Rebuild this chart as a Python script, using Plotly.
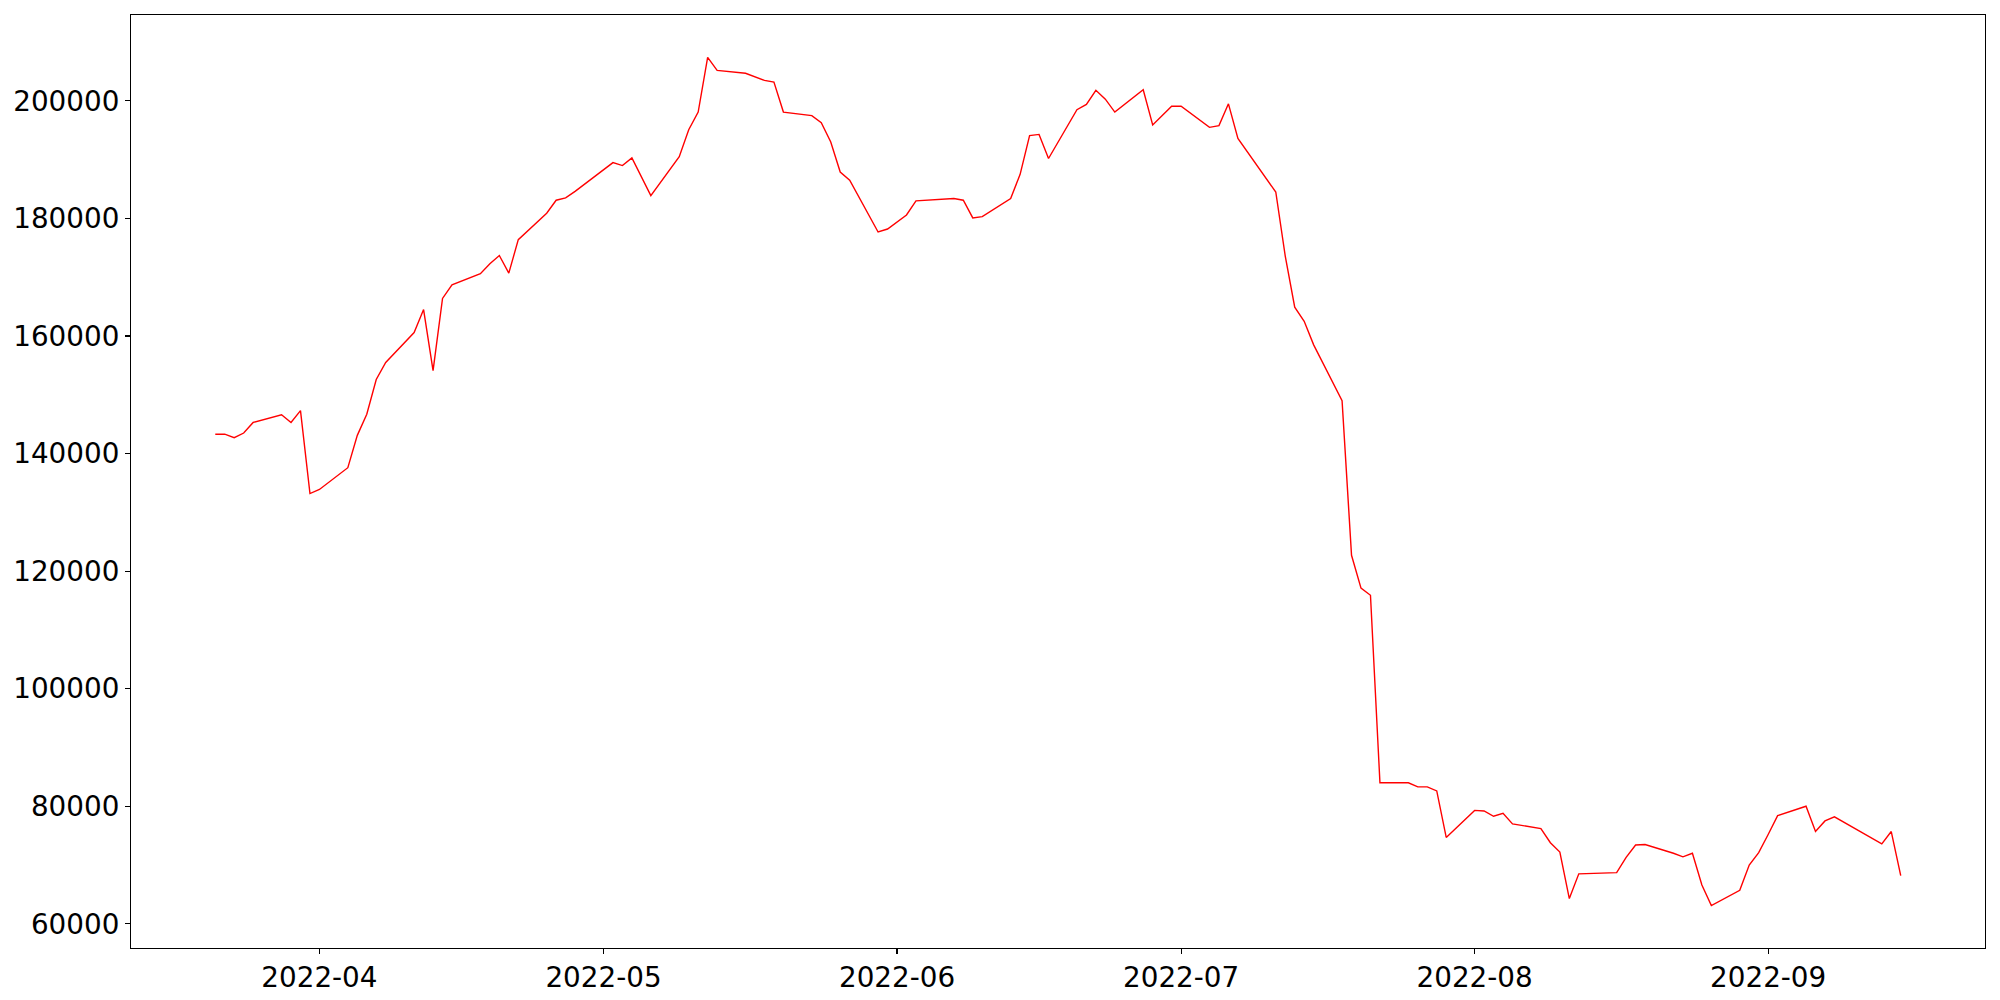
import pandas as pd
import plotly.graph_objects as go

dates = [
    "2022-03-21", "2022-03-22", "2022-03-23", "2022-03-24", "2022-03-25",
    "2022-03-28", "2022-03-29", "2022-03-30", "2022-03-31", "2022-04-01",
    "2022-04-04", "2022-04-05", "2022-04-06", "2022-04-07", "2022-04-08",
    "2022-04-11", "2022-04-12", "2022-04-13", "2022-04-14", "2022-04-15",
    "2022-04-18", "2022-04-19", "2022-04-20", "2022-04-21", "2022-04-22",
    "2022-04-25", "2022-04-26", "2022-04-27", "2022-04-28", "2022-04-29",
    "2022-05-02", "2022-05-03", "2022-05-04", "2022-05-06",
    "2022-05-09", "2022-05-10", "2022-05-11", "2022-05-12", "2022-05-13",
    "2022-05-16", "2022-05-17", "2022-05-18", "2022-05-19", "2022-05-20",
    "2022-05-23", "2022-05-24", "2022-05-25", "2022-05-26", "2022-05-27",
    "2022-05-30", "2022-05-31", "2022-06-02", "2022-06-03",
    "2022-06-07", "2022-06-08", "2022-06-09", "2022-06-10",
    "2022-06-13", "2022-06-14", "2022-06-15", "2022-06-16", "2022-06-17",
    "2022-06-20", "2022-06-21", "2022-06-22", "2022-06-23", "2022-06-24",
    "2022-06-27", "2022-06-28", "2022-06-29", "2022-06-30", "2022-07-01",
    "2022-07-04", "2022-07-05", "2022-07-06", "2022-07-07", "2022-07-08",
    "2022-07-11", "2022-07-12", "2022-07-13", "2022-07-14", "2022-07-15",
    "2022-07-18", "2022-07-19", "2022-07-20", "2022-07-21", "2022-07-22",
    "2022-07-25", "2022-07-26", "2022-07-27", "2022-07-28", "2022-07-29",
    "2022-08-01", "2022-08-02", "2022-08-03", "2022-08-04", "2022-08-05",
    "2022-08-08", "2022-08-09", "2022-08-10", "2022-08-11", "2022-08-12",
    "2022-08-16", "2022-08-17", "2022-08-18", "2022-08-19",
    "2022-08-22", "2022-08-23", "2022-08-24", "2022-08-25", "2022-08-26",
    "2022-08-29", "2022-08-30", "2022-08-31", "2022-09-01", "2022-09-02",
    "2022-09-05", "2022-09-06", "2022-09-07", "2022-09-08",
    "2022-09-13", "2022-09-14", "2022-09-15",
]

values = [
    143300, 143300, 142700, 143500, 145300,
    146600, 145300, 147300, 133200, 133900,
    137600, 143100, 146700, 152600, 155500,
    160600, 164500, 154100, 166400, 168700,
    170600, 172300, 173700, 170700, 176400,
    180900, 183100, 183500, 184600, 185800,
    189500, 189000, 190300, 183900,
    190500, 195100, 198100, 207400, 205200,
    204700, 204100, 203500, 203200, 198100,
    197500, 196300, 193000, 187900, 186500,
    177700, 178200, 180600, 183000,
    183400, 183100, 180100, 180300,
    183400, 187500, 194100, 194300, 190200,
    198500, 199400, 201800, 200300, 198100,
    201900, 195900, 197500, 199100, 199100,
    195500, 195800, 199500, 193600, 191300,
    184500, 173600, 164900, 162500, 158500,
    149000, 122700, 117100, 115900, 84000,
    84000, 83300, 83300, 82600, 74700,
    79300, 79200, 78300, 78800, 77000,
    76200, 73800, 72200, 64300, 68500,
    68700, 71300, 73400, 73500,
    72000, 71400, 72000, 66600, 63100,
    65700, 70000, 72100, 75200, 78400,
    80000, 75700, 77500, 78200,
    73600, 75700, 68200,
]

yticks = [60000, 80000, 100000, 120000, 140000, 160000, 180000, 200000]

x = pd.to_datetime(pd.Series(dates))
span = x.max() - x.min()
xr = [x.min() - 0.05 * span, x.max() + 0.05 * span]
vmin, vmax = min(values), max(values)
vspan = vmax - vmin
yr = [vmin - 0.05 * vspan, vmax + 0.05 * vspan]

fig = go.Figure()
fig.add_trace(go.Scatter(x=x, y=values, mode="lines",
                         line=dict(color="red", width=1.4), showlegend=False))

font = dict(family="DejaVu Sans", size=27.8, color="black")
fig.update_layout(
    width=2000, height=1000,
    margin=dict(l=131, r=15, t=15, b=52, autoexpand=False),
    paper_bgcolor="white", plot_bgcolor="white",
    font=font,
    xaxis=dict(range=xr, showgrid=False, zeroline=False, automargin=False,
               showline=True, mirror=True, linecolor="black", linewidth=1.1,
               ticks="outside", ticklen=5, tickwidth=1.1, tickcolor="black",
               dtick="M1", tick0="2022-04-01", tickformat="%Y-%m",
               tickfont=font),
    yaxis=dict(range=yr, showgrid=False, zeroline=False, automargin=False,
               showline=True, mirror=True, linecolor="black", linewidth=1.1,
               ticks="outside", ticklen=5, tickwidth=1.1, tickcolor="black",
               tickvals=yticks, ticktext=[str(v) for v in yticks],
               tickfont=font),
)
fig.write_html(
    "out.html",
    config={"displayModeBar": False, "staticPlot": True},
    post_script="document.body.style.margin='0px';document.body.style.overflow='hidden';",
)
